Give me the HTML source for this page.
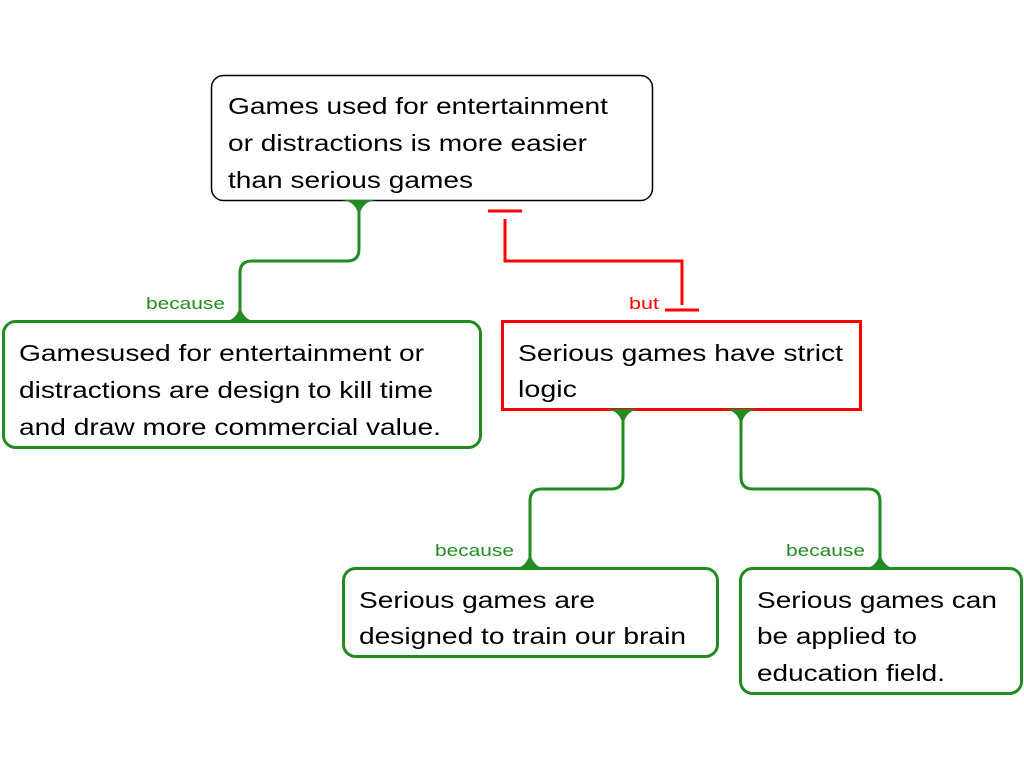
<!DOCTYPE html>
<html><head><meta charset="utf-8"><style>
html,body{margin:0;padding:0;background:#fff;}
text{font-family:"Liberation Sans",Arial,sans-serif;}
.t{font-size:23px;fill:#000;}
.g{font-size:17px;fill:#228B22;}
</style></head><body>
<svg width="1024" height="768" viewBox="0 0 1024 768" xmlns="http://www.w3.org/2000/svg">
<rect width="1024" height="768" fill="#fff"/>
<g fill="none" stroke="#228B22" stroke-width="3">
<path d="M359,201 V249 Q359,261 347,261 H252 Q240,261 240,273 V321"/>
<path d="M623,410 V477 Q623,489 611,489 H542 Q530,489 530,501 V568"/>
<path d="M741,410 V477 Q741,489 753,489 H868 Q880,489 880,501 V568"/>
</g>
<g fill="none" stroke="#f00" stroke-width="3">
<path d="M488,211 H522"/>
<path d="M505,219 V261 H682 V305"/>
<path d="M665,310 H699"/>
</g>
<rect x="211.5" y="75.5" width="441" height="125" rx="12" fill="#fff" stroke="#000" stroke-width="1.5"/>
<rect x="3.5" y="321.5" width="477" height="126" rx="12" fill="#fff" stroke="#228B22" stroke-width="3"/>
<rect x="502.5" y="321.5" width="358" height="88" fill="#fff" stroke="#f00" stroke-width="3"/>
<rect x="343.5" y="568.5" width="374" height="88" rx="12" fill="#fff" stroke="#228B22" stroke-width="3"/>
<rect x="740.5" y="568.5" width="281" height="125" rx="12" fill="#fff" stroke="#228B22" stroke-width="3"/>
<g fill="#228B22">
<path d="M341,200 Q357,201 359,218 Q361,201 377,200 Z"/>
<path d="M222,322 Q238,321 240,304 Q242,321 258,322 Z"/>
<path d="M605,409 Q621,410 623,427 Q625,410 641,409 Z"/>
<path d="M723,409 Q739,410 741,427 Q743,410 759,409 Z"/>
<path d="M512,569 Q528,568 530,551 Q532,568 548,569 Z"/>
<path d="M862,569 Q878,568 880,551 Q882,568 898,569 Z"/>
</g>
<text class="t" x="228" y="114" textLength="380" lengthAdjust="spacingAndGlyphs">Games used for entertainment</text>
<text class="t" x="228" y="151" textLength="359" lengthAdjust="spacingAndGlyphs">or distractions is more easier</text>
<text class="t" x="228" y="188" textLength="245" lengthAdjust="spacingAndGlyphs">than serious games</text>
<text class="t" x="19" y="361" textLength="405" lengthAdjust="spacingAndGlyphs">Gamesused for entertainment or</text>
<text class="t" x="19" y="398" textLength="414" lengthAdjust="spacingAndGlyphs">distractions are design to kill time</text>
<text class="t" x="19" y="435" textLength="422" lengthAdjust="spacingAndGlyphs">and draw more commercial value.</text>
<text class="t" x="518" y="361" textLength="325" lengthAdjust="spacingAndGlyphs">Serious games have strict</text>
<text class="t" x="518" y="397" textLength="59" lengthAdjust="spacingAndGlyphs">logic</text>
<text class="t" x="359" y="608" textLength="236" lengthAdjust="spacingAndGlyphs">Serious games are</text>
<text class="t" x="359" y="644" textLength="327" lengthAdjust="spacingAndGlyphs">designed to train our brain</text>
<text class="t" x="757" y="608" textLength="240" lengthAdjust="spacingAndGlyphs">Serious games can</text>
<text class="t" x="757" y="644" textLength="160" lengthAdjust="spacingAndGlyphs">be applied to</text>
<text class="t" x="757" y="681" textLength="188" lengthAdjust="spacingAndGlyphs">education field.</text>
<text class="g" x="146" y="309" textLength="79" lengthAdjust="spacingAndGlyphs">because</text>
<text class="g" x="435" y="556" textLength="79" lengthAdjust="spacingAndGlyphs">because</text>
<text class="g" x="786" y="556" textLength="79" lengthAdjust="spacingAndGlyphs">because</text>
<text class="g" x="629" y="309" textLength="30" lengthAdjust="spacingAndGlyphs" style="fill:#f00">but</text>
</svg>
</body></html>
